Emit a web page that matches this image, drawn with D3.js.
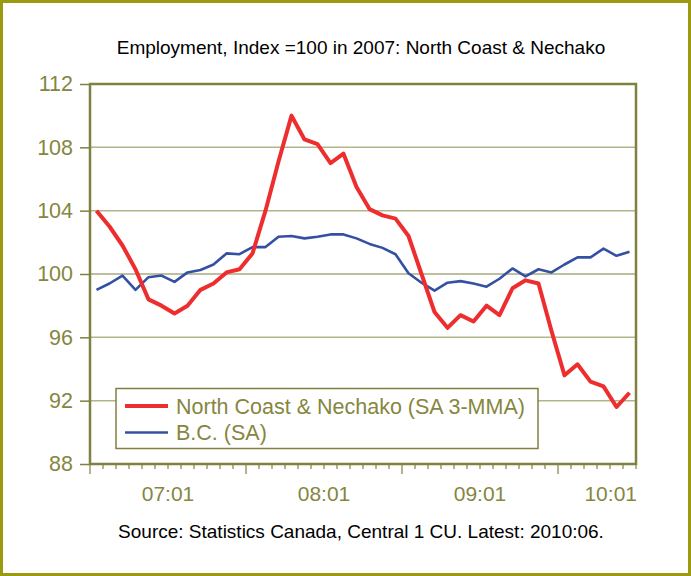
<!DOCTYPE html>
<html>
<head>
<meta charset="utf-8">
<script src="https://cdn.jsdelivr.net/npm/d3@7"></script>
<style>
  html, body { margin: 0; padding: 0; background: #fff; }
  svg { display: block; font-family: "Liberation Sans", Arial, sans-serif; }
</style>
</head>
<body>
<svg id="chart" width="691" height="576"></svg>
<script>
// Monthly categories 2007:01 .. 2010:06
const years = [2007, 2008, 2009, 2010];
const months = [];
years.forEach(y => { for (let m = 1; m <= 12; m++) { if (y === 2010 && m > 6) break; months.push(y + ":" + String(m).padStart(2, "0")); } });

// North Coast & Nechako employment index (SA 3-MMA)
const northCoast = [
  104.0, 103.0, 101.8, 100.3, 98.4, 98.0, 97.5, 98.0, 99.0, 99.4, 100.1, 100.3,
  101.3, 104.0, 107.1, 110.0, 108.5, 108.2, 107.0, 107.6, 105.5, 104.1, 103.7, 103.5,
  102.4, 100.0, 97.6, 96.6, 97.4, 97.0, 98.0, 97.4, 99.1, 99.6, 99.4, 96.4,
  93.6, 94.3, 93.2, 92.9, 91.6, 92.5
];
// B.C. employment index (SA)
const bc = [
  99.0, 99.4, 99.9, 99.0, 99.8, 99.9, 99.5, 100.1, 100.25, 100.6, 101.3, 101.25,
  101.7, 101.7, 102.35, 102.4, 102.25, 102.35, 102.5, 102.5, 102.25, 101.9, 101.65, 101.25,
  100.05, 99.45, 98.95, 99.45, 99.55, 99.4, 99.2, 99.7, 100.35, 99.85, 100.3, 100.1,
  100.6, 101.05, 101.05, 101.6, 101.15, 101.4
];
const yTicks = [88, 92, 96, 100, 104, 108, 112];
const yearLabels = ["07:01", "08:01", "09:01", "10:01"];

const titleText = "Employment, Index =100 in 2007: North Coast & Nechako";
const sourceText = "Source: Statistics Canada, Central 1 CU. Latest: 2010:06.";
const seriesNames = ["North Coast & Nechako (SA 3-MMA)", "B.C. (SA)"];

const W = 691, H = 576;
const plot = { left: 90, right: 636, top: 84, bottom: 464 };
const olive = "#808040";
const labelColor = "#86863f";
const gridColor = "#b4b48a";
const redColor = "#ee2e2e";
const blueColor = "#3450a4";

const svg = d3.select("#chart");

// outer frame
svg.append("rect")
  .attr("x", 1.5).attr("y", 1.5).attr("width", W - 3).attr("height", H - 3)
  .attr("fill", "#fff").attr("stroke", "#9c9a10").attr("stroke-width", 3);

const x = d3.scaleBand().domain(months).range([plot.left, plot.right]).paddingInner(0).paddingOuter(0);
const y = d3.scaleLinear().domain([88, 112]).range([plot.bottom, plot.top]);
const cx = m => x(m) + x.bandwidth() / 2;

// title
svg.append("text")
  .attr("x", 361).attr("y", 54)
  .attr("text-anchor", "middle")
  .attr("font-size", 19).attr("fill", "#000")
  .text(titleText);

// horizontal gridlines
svg.append("g").selectAll("line")
  .data(yTicks.filter(t => t !== 88 && t !== 112))
  .join("line")
  .attr("x1", plot.left).attr("x2", plot.right)
  .attr("y1", d => y(d)).attr("y2", d => y(d))
  .attr("stroke", d => d === 100 ? olive : gridColor)
  .attr("stroke-width", d => d === 100 ? 1.2 : 1.5);

// y axis
const yAxis = svg.append("g")
  .attr("transform", `translate(${plot.left},0)`)
  .call(d3.axisLeft(y).tickValues(yTicks).tickSize(10).tickPadding(7).tickFormat(d3.format("d")));
yAxis.select(".domain").remove();
yAxis.selectAll(".tick line").attr("stroke", olive).attr("stroke-width", 1.5);
yAxis.selectAll(".tick text")
  .attr("fill", labelColor).attr("font-size", 21.5)
  .attr("font-family", "Liberation Sans, Arial, sans-serif");

// x axis: month ticks, longer at the start of each year
const boundaries = d3.range(months.length + 1);
svg.append("g").selectAll("line")
  .data(boundaries)
  .join("line")
  .attr("x1", i => plot.left + i * x.bandwidth())
  .attr("x2", i => plot.left + i * x.bandwidth())
  .attr("y1", plot.bottom)
  .attr("y2", i => plot.bottom + (i % 12 === 0 ? 10 : 5))
  .attr("stroke", olive).attr("stroke-width", 1.2);

// year labels, centred on the year, kept inside the plot's right edge
const xl = svg.append("g").selectAll("text")
  .data(yearLabels)
  .join("text")
  .attr("y", 501)
  .attr("text-anchor", "middle")
  .attr("font-size", 21).attr("fill", labelColor)
  .text(d => d);
xl.each(function(d, i) {
  const start = plot.left + i * 12 * x.bandwidth();
  const centre = start + 6 * x.bandwidth();
  const w = this.getComputedTextLength();
  d3.select(this).attr("x", Math.min(centre, plot.right + 1 - w / 2));
});

// plot frame
svg.append("rect")
  .attr("x", plot.left).attr("y", plot.top)
  .attr("width", plot.right - plot.left).attr("height", plot.bottom - plot.top)
  .attr("fill", "none").attr("stroke", olive).attr("stroke-width", 2.5);

// series lines
const line = d3.line().x((d, i) => cx(months[i])).y(d => y(d));
svg.append("path").datum(bc)
  .attr("d", line).attr("fill", "none")
  .attr("stroke", blueColor).attr("stroke-width", 2.6).attr("stroke-linejoin", "round");
svg.append("path").datum(northCoast)
  .attr("d", line).attr("fill", "none")
  .attr("stroke", redColor).attr("stroke-width", 4).attr("stroke-linejoin", "round");

// legend
const lg = svg.append("g");
lg.append("rect")
  .attr("x", 116).attr("y", 388.5).attr("width", 422).attr("height", 60)
  .attr("fill", "#fff").attr("stroke", olive).attr("stroke-width", 1.5);
const legendItems = [
  { name: seriesNames[0], color: redColor, w: 4, yy: 406 },
  { name: seriesNames[1], color: blueColor, w: 2.6, yy: 432.5 }
];
legendItems.forEach(it => {
  lg.append("line")
    .attr("x1", 125).attr("x2", 168).attr("y1", it.yy).attr("y2", it.yy)
    .attr("stroke", it.color).attr("stroke-width", it.w);
  lg.append("text")
    .attr("x", 176).attr("y", it.yy + 7.5)
    .attr("font-size", 21.5).attr("fill", labelColor)
    .text(it.name);
});

// source note
svg.append("text")
  .attr("x", 361).attr("y", 538)
  .attr("text-anchor", "middle")
  .attr("font-size", 19).attr("fill", "#000")
  .text(sourceText);
</script>
</body>
</html>
